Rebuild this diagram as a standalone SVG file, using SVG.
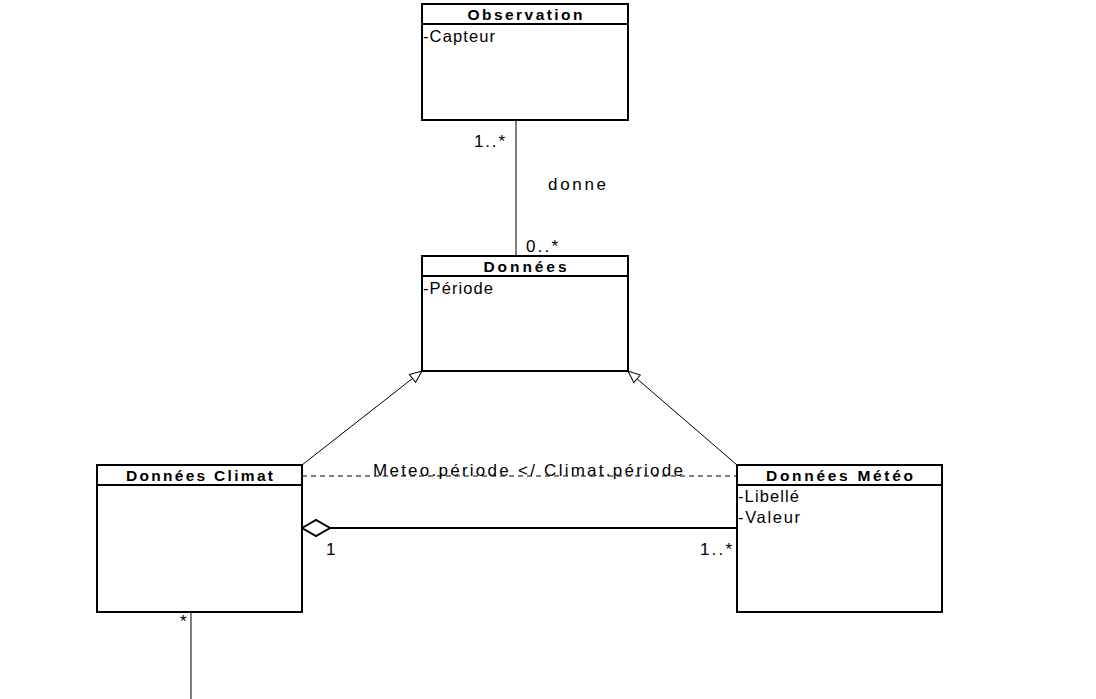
<svg xmlns="http://www.w3.org/2000/svg" width="1096" height="699" viewBox="0 0 1096 699">
<defs>
<style>
.box{fill:#fff;stroke:#000;stroke-width:2}
.sep{stroke:#000;stroke-width:2}
.title{font-family:"Liberation Sans",Arial,sans-serif;font-weight:bold;font-size:15.5px;text-anchor:middle;fill:#000}
.attr{font-family:"Liberation Sans",Arial,sans-serif;font-size:16.5px;fill:#000}
.lbl{font-family:"Liberation Sans",Arial,sans-serif;font-size:17px;fill:#000}
.line{stroke:#000;stroke-width:1;fill:none}
</style>
<marker id="gen" viewBox="0 0 14 12" refX="13" refY="6" markerWidth="14" markerHeight="12" markerUnits="userSpaceOnUse" orient="auto">
<path d="M1,1 L13,6 L1,11 Z" fill="#fff" stroke="#000" stroke-width="1"/>
</marker>
</defs>
<rect width="1096" height="699" fill="#fff"/>
<g id="connectors">
<line class="line" x1="516" y1="120" x2="516" y2="256"/>
<text class="lbl" x="474" y="147" textLength="31" lengthAdjust="spacing">1..*</text>
<text class="lbl" x="548" y="190" textLength="58" lengthAdjust="spacing">donne</text>
<text class="lbl" x="526" y="252" textLength="32" lengthAdjust="spacing">0..*</text>
<line class="line" x1="302" y1="465" x2="422" y2="371" marker-end="url(#gen)"/>
<line class="line" x1="737" y1="465" x2="628" y2="371" marker-end="url(#gen)"/>
<line class="line" x1="302" y1="476" x2="737" y2="476" stroke-dasharray="5,4"/>
<text class="lbl" x="373" y="476" font-size="19.5" textLength="310" lengthAdjust="spacing">Meteo.période &lt;/ Climat.période</text>
<line x1="330" y1="528" x2="737" y2="528" stroke="#000" stroke-width="2"/>
<polygon points="302,528 316,520 330,528 316,536" fill="#fff" stroke="#000" stroke-width="2"/>
<text class="lbl" x="326" y="555" textLength="8" lengthAdjust="spacing">1</text>
<text class="lbl" x="700" y="555" textLength="32" lengthAdjust="spacing">1..*</text>
<line class="line" x1="191" y1="612" x2="191" y2="699"/>
<text class="lbl" x="180" y="627" font-size="14">*</text>
</g>
<g id="observation">
<rect class="box" x="422" y="4" width="206" height="116"/>
<line class="sep" x1="422" y1="24" x2="628" y2="24"/>
<text class="title" x="525" y="20" textLength="115" lengthAdjust="spacing">Observation</text>
<text class="attr" x="423" y="42" textLength="72" lengthAdjust="spacing">-Capteur</text>
</g>
<g id="donnees">
<rect class="box" x="422" y="256" width="206" height="115"/>
<line class="sep" x1="422" y1="276" x2="628" y2="276"/>
<text class="title" x="525" y="272" textLength="83" lengthAdjust="spacing">Données</text>
<text class="attr" x="423" y="294" textLength="70" lengthAdjust="spacing">-Période</text>
</g>
<g id="donnees-climat">
<rect class="box" x="97" y="465" width="205" height="147"/>
<line class="sep" x1="97" y1="485" x2="302" y2="485"/>
<text class="title" x="199.5" y="481" textLength="147" lengthAdjust="spacing">Données Climat</text>
</g>
<g id="donnees-meteo">
<rect class="box" x="737" y="465" width="205" height="147"/>
<line class="sep" x1="737" y1="485" x2="942" y2="485"/>
<text class="title" x="839.5" y="481" textLength="147" lengthAdjust="spacing">Données Météo</text>
<text class="attr" x="738" y="502" textLength="61" lengthAdjust="spacing">-Libellé</text>
<text class="attr" x="738" y="523" textLength="62" lengthAdjust="spacing">-Valeur</text>
</g>
</svg>
